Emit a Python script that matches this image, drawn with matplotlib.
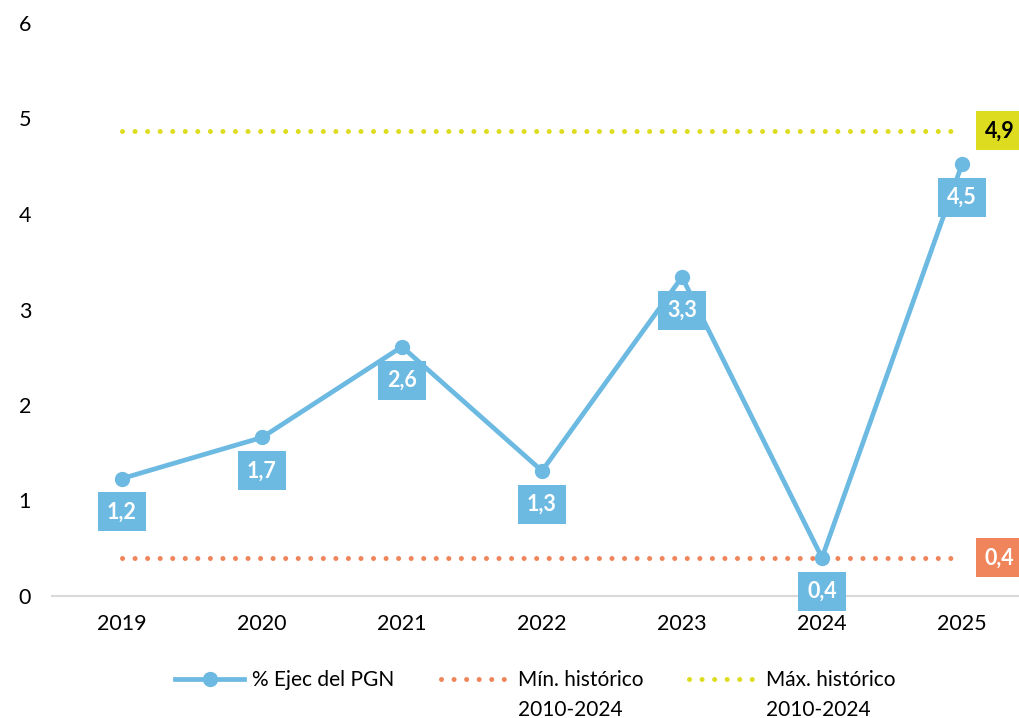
import matplotlib
matplotlib.use("Agg")
import matplotlib.pyplot as plt

plt.rcParams['font.family'] = ['Lato', 'DejaVu Sans']

# data
years = ["2019", "2020", "2021", "2022", "2023", "2024", "2025"]
ejec_pgn = [1.23, 1.66, 2.61, 1.31, 3.34, 0.40, 4.52]
ejec_labels = ["1,2", "1,7", "2,6", "1,3", "3,3", "0,4", "4,5"]
min_hist = 0.40
max_hist = 4.87
min_label = "0,4"
max_label = "4,9"

blue = "#6CB9E2"
orange = "#F0845A"
yellow = "#DEDC1E"

fig = plt.figure(figsize=(10.2, 7.18), dpi=100)
ax = fig.add_axes([52 / 1020, 1 - 596 / 718, 980 / 1020, 573 / 718])

x = list(range(len(years)))

# historical min / max lines
ax.plot(x, [min_hist] * len(x), color=orange, lw=3.6,
        linestyle=(0, (0.01, 2.5)), dash_capstyle="round",
        label="Mín. histórico", zorder=2)
ax.plot(x, [max_hist] * len(x), color=yellow, lw=3.6,
        linestyle=(0, (0.01, 2.5)), dash_capstyle="round",
        label="Máx. histórico", zorder=2)

# main series
ax.plot(x, ejec_pgn, color=blue, lw=3.4, marker="o", markersize=10,
        label="% Ejec del PGN", zorder=3)

box_kw = dict(boxstyle="square,pad=0.42", ec="none")

# value boxes below the points
for xi, v, lab in zip(x, ejec_pgn, ejec_labels):
    ax.annotate(lab, (xi, v), xytext=(0, -24),
                textcoords="offset points", ha="center", va="center",
                color="white", fontsize=15.5, fontweight="bold", zorder=4,
                bbox=dict(fc=blue, **box_kw))

# end labels for min / max
ax.annotate(max_label, (x[-1], max_hist), xytext=(27, 0),
            textcoords="offset points", ha="center", va="center",
            color="black", fontsize=15.5, fontweight="bold",
            bbox=dict(fc=yellow, **box_kw), annotation_clip=False)
ax.annotate(min_label, (x[-1], min_hist), xytext=(27, 0),
            textcoords="offset points", ha="center", va="center",
            color="white", fontsize=15.5, fontweight="bold",
            bbox=dict(fc=orange, **box_kw), annotation_clip=False)

ax.set_xlim(-0.5, len(years) - 0.5)
ax.set_ylim(0, 6)
ax.set_xticks(x)
ax.set_xticklabels(years)
ax.set_yticks(range(0, 7))

for s in ["top", "right", "left"]:
    ax.spines[s].set_visible(False)
ax.spines["bottom"].set_color("#D9D9D9")
ax.spines["bottom"].set_linewidth(1.5)
ax.tick_params(axis="both", length=0, labelsize=15.5)
ax.tick_params(axis="x", pad=13)
ax.tick_params(axis="y", pad=15)

handles, labels = ax.get_legend_handles_labels()
order = [2, 0, 1]
leg = fig.legend([handles[i] for i in order], [labels[i] for i in order],
                 loc="center", bbox_to_anchor=(0.525, 1 - 680 / 718), ncol=3,
                 frameon=False, fontsize=15, handlelength=3.3,
                 columnspacing=2.2, handletextpad=0.4)

# second line of the min / max legend labels
fig.canvas.draw()
for t in leg.get_texts()[1:]:
    bb = t.get_window_extent()
    fig.text(bb.x0 / fig.bbox.width, (bb.y0 - 30) / fig.bbox.height,
             "2010-2024", fontsize=15, ha="left", va="bottom")

fig.savefig("out.png", dpi=100)
